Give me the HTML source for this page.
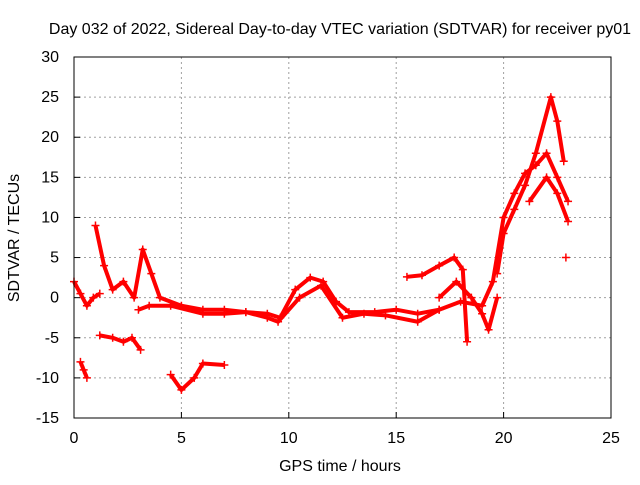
<!DOCTYPE html>
<html><head><meta charset="utf-8"><style>
body{margin:0;background:#fff;font-family:"Liberation Sans",sans-serif;}
svg text{font-family:"Liberation Sans",sans-serif;font-size:16px;fill:#000;}
</style></head><body>
<svg id="c" width="640" height="480">
<text x="340" y="34" text-anchor="middle">Day 032 of 2022, Sidereal Day-to-day VTEC variation (SDTVAR) for receiver py01</text>
<text x="340" y="471" text-anchor="middle">GPS time / hours</text>
<text transform="translate(19,238) rotate(-90)" text-anchor="middle">SDTVAR / TECUs</text>
<g id="grid"></g><g id="marks"></g>
<rect x="74" y="57" width="537" height="361" fill="none" stroke="#000"/>
</svg>
<script>
const xTicks=[0,5,10,15,20,25];
const yTicks=[-15,-10,-5,0,5,10,15,20,25,30];
const track1=[[0,2],[0.3,0.5],[0.6,-1],[0.9,0],[1.2,0.5]];
const track2=[[0.3,-8],[0.45,-9],[0.6,-10]];
const track3=[[1.2,-4.7],[1.8,-5],[2.3,-5.5],[2.7,-5],[3.1,-6.5]];
const track4=[[4.5,-9.6],[5,-11.5],[5.6,-10],[6,-8.2],[7,-8.4]];
const track5=[[1,9],[1.4,4],[1.8,1],[2.3,2],[2.8,0],[3.2,6],[3.6,3],[4,0],[5,-1],[6,-1.5],[7,-1.5],[8,-1.8],[9,-2],[9.6,-2.5],[10.3,1],[11,2.5],[11.6,2],[12.2,-0.5],[12.8,-1.8],[14,-1.8],[15,-1.5],[16,-2],[17,-1.5],[18,-0.5],[19,-1],[19.5,2],[20,10],[20.5,13],[21,15.5],[21.5,16.5],[22,18],[22.5,15],[23,12]];
const track6=[[19.7,3],[20,8],[20.5,11],[21,14],[21.5,18],[22.2,25],[22.5,22],[22.8,17]];
const track7=[[21.2,12],[22,15],[22.5,13],[23,9.5]];
const track8=[[15.5,2.6],[16.2,2.8],[17,4],[17.7,5],[18.1,3.5],[18.3,-5.5]];
const track9=[[17,0],[17.8,2],[18.5,0],[19,-2],[19.3,-4],[19.7,0]];
const track10=[[3,-1.5],[3.5,-1],[4.5,-1],[6,-2],[7,-2],[8,-1.8],[9,-2.5],[9.5,-3],[10.5,0],[11.5,1.5],[12.5,-2.5],[13.5,-2],[14.5,-2.2],[16,-3],[17,-1.5]];
const track11=[[22.9,5]];
const tracks=[track1,track2,track3,track4,track5,track6,track7,track8,track9,track10,track11];
const X=t=>74+t*21.48, Y=v=>418-(v+15)*8.022;
const NS='http://www.w3.org/2000/svg';
const g=document.getElementById('grid'), m=document.getElementById('marks');
function mk(tag,a,p){const e=document.createElementNS(NS,tag);for(const k in a)e.setAttribute(k,a[k]);p.appendChild(e);return e;}
xTicks.forEach(t=>{
 if(t>0&&t<25){const l=mk('line',{x1:X(t),x2:X(t),y1:57,y2:418,stroke:'#a0a0a0','stroke-dasharray':'2,3'},g);
 
 }
 const tx=mk('text',{x:X(t),y:443,'text-anchor':'middle'},g);tx.textContent=t;
 
 
 mk('line',{x1:X(t),x2:X(t),y1:418,y2:412,stroke:'#000'},g);
});
yTicks.forEach(v=>{
 if(v>-15&&v<30){const l=mk('line',{x1:74,x2:611,y1:Y(v),y2:Y(v),stroke:'#a0a0a0','stroke-dasharray':'2,3'},g);
 
 }
 const tx=mk('text',{x:59,y:Y(v)+5,'text-anchor':'end'},g);tx.textContent=v;
 
 
 mk('line',{x1:74,x2:80,y1:Y(v),y2:Y(v),stroke:'#000'},g);
});
tracks.forEach(tr=>{
 const pl=mk('polyline',{points:tr.map(p=>X(p[0])+','+Y(p[1])).join(' '),fill:'none',stroke:'#f00','stroke-width':4,'stroke-linejoin':'round'},m);
 
 
 tr.forEach(p=>{
  const x=X(p[0]),y=Y(p[1]);
  const pt=mk('path',{d:`M${x-4},${y}H${x+4}M${x},${y-4}V${y+4}`,stroke:'#f00','stroke-width':1.5},m);
  
  
 });
});
</script>
</body></html>
